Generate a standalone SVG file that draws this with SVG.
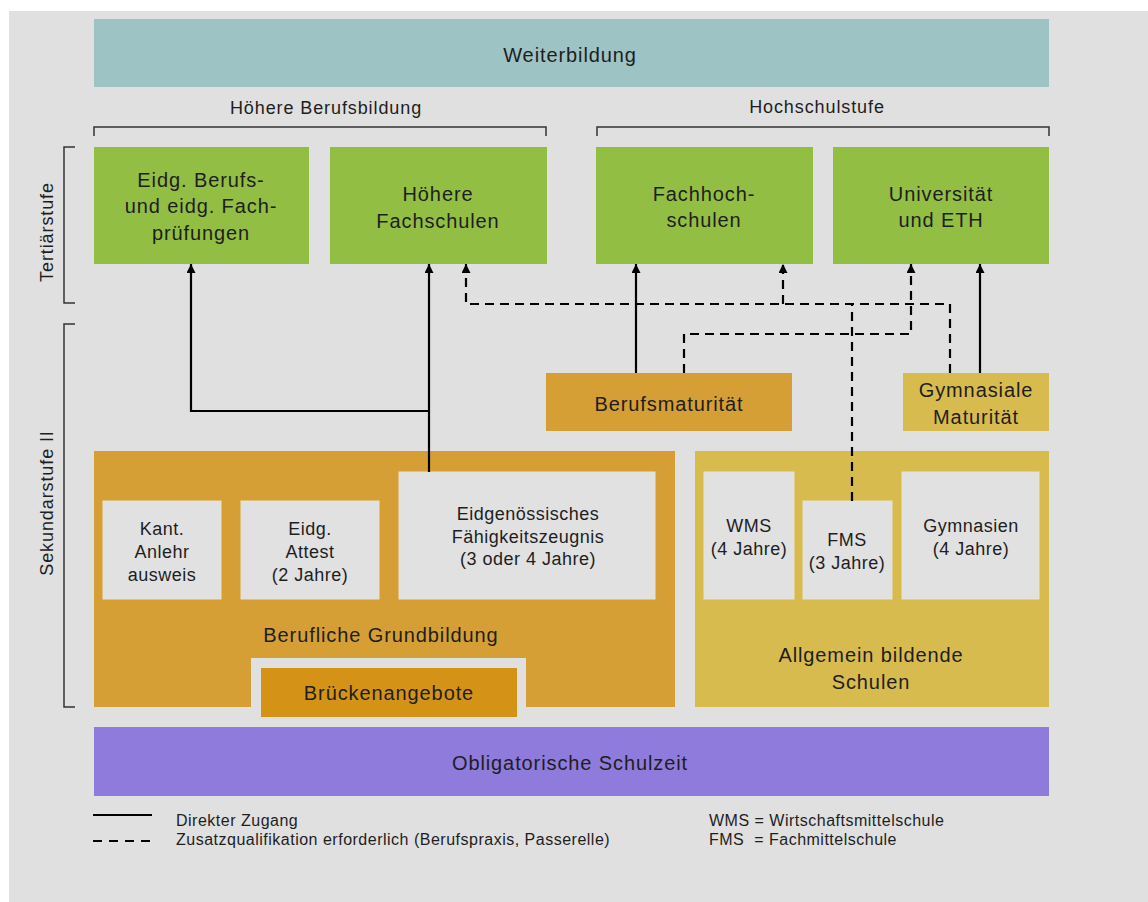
<svg xmlns="http://www.w3.org/2000/svg" width="1148" height="902" viewBox="0 0 1148 902">
<style>
text{font-family:"Liberation Sans",Arial,sans-serif;fill:#1e1e1e;text-anchor:middle}
.big{font-size:20px;letter-spacing:0.9px}
.mid{font-size:18px;letter-spacing:0.9px}
.sm{font-size:18px;letter-spacing:0.5px}
.leg{font-size:16px;letter-spacing:0.5px;text-anchor:start}
.inner{fill:#e1e1e1;stroke:#e6e2d2;stroke-width:1}
.green{fill:#92bf43}
.br{fill:none;stroke:#333;stroke-width:1.5}
.solid{fill:none;stroke:#000;stroke-width:2.2}
.dash{fill:none;stroke:#000;stroke-width:2.2;stroke-dasharray:9 6}
</style>
<defs>
<marker id="arr" markerUnits="userSpaceOnUse" markerWidth="10" markerHeight="10" refX="9" refY="4.5" orient="auto">
<path d="M0,0 L9,4.5 L0,9 Z" fill="#000"/>
</marker>
</defs>
<rect x="0" y="0" width="1148" height="902" fill="#fff"/>
<rect x="9" y="11" width="1139" height="891" fill="#e0e0e0"/>

<g id="weiterbildung">
<rect x="94" y="19" width="955" height="68" fill="#9dc3c4"/>
<text class="big" x="570" y="62">Weiterbildung</text>
</g>

<g id="hoehere-berufsbildung-label">
<text class="mid" x="326" y="114">Höhere Berufsbildung</text>
<path class="br" d="M94,136 V127 H546 V136"/>
</g>
<g id="hochschulstufe-label">
<text class="mid" x="817" y="113">Hochschulstufe</text>
<path class="br" d="M597,136 V127 H1049 V136"/>
</g>

<g id="tertiaerstufe-label">
<path class="br" d="M75,147 H64 V303 H75"/>
<text class="mid" transform="translate(53,232) rotate(-90)">Tertiärstufe</text>
</g>
<g id="sekundarstufe-label">
<path class="br" d="M75,324 H64 V707 H75"/>
<text class="mid" transform="translate(53,503) rotate(-90)">Sekundarstufe II</text>
</g>

<g id="eidg-pruefungen">
<rect class="green" x="94" y="147" width="215" height="117"/>
<text class="big" x="201" y="187">Eidg. Berufs-</text>
<text class="big" x="201" y="213">und eidg. Fach-</text>
<text class="big" x="201" y="240">prüfungen</text>
</g>
<g id="hoehere-fachschulen">
<rect class="green" x="330" y="147" width="217" height="117"/>
<text class="big" x="438" y="201">Höhere</text>
<text class="big" x="438" y="228">Fachschulen</text>
</g>
<g id="fachhochschulen">
<rect class="green" x="596" y="147" width="217" height="117"/>
<text class="big" x="704" y="201">Fachhoch-</text>
<text class="big" x="704" y="227">schulen</text>
</g>
<g id="universitaet">
<rect class="green" x="833" y="147" width="216" height="117"/>
<text class="big" x="941" y="201">Universität</text>
<text class="big" x="941" y="227">und ETH</text>
</g>

<g id="berufsmaturitaet">
<rect x="546" y="373" width="246" height="58" fill="#d59f35"/>
<text class="big" x="669" y="411">Berufsmaturität</text>
</g>
<g id="gymnasiale-maturitaet">
<rect x="903" y="373" width="146" height="58" fill="#d8bb4e"/>
<text class="big" x="976" y="397">Gymnasiale</text>
<text class="big" x="976" y="424">Maturität</text>
</g>

<g id="berufliche-grundbildung">
<path d="M94,451 H675 V707 H526 V658 H251 V707 H94 Z" fill="#d59f35"/>
<text class="big" x="381" y="642">Berufliche Grundbildung</text>
</g>
<g id="kant-anlehrausweis">
<rect class="inner" x="103" y="501" width="118" height="98"/>
<text class="sm" x="162" y="535">Kant.</text>
<text class="sm" x="162" y="558">Anlehr</text>
<text class="sm" x="162" y="581">ausweis</text>
</g>
<g id="eidg-attest">
<rect class="inner" x="241" y="501" width="138" height="98"/>
<text class="sm" x="310" y="535">Eidg.</text>
<text class="sm" x="310" y="558">Attest</text>
<text class="sm" x="310" y="581">(2 Jahre)</text>
</g>
<g id="efz">
<rect class="inner" x="399" y="472" width="256" height="127"/>
<text class="sm" x="528" y="520">Eidgenössisches</text>
<text class="sm" x="528" y="543">Fähigkeitszeugnis</text>
<text class="sm" x="528" y="565">(3 oder 4 Jahre)</text>
</g>
<g id="brueckenangebote">
<rect x="261" y="668" width="256" height="49" fill="#d49317"/>
<text class="big" x="389" y="700">Brückenangebote</text>
</g>

<g id="allgemein-bildende-schulen">
<rect x="695" y="451" width="354" height="256" fill="#d8bb4e"/>
<text class="big" x="871" y="662">Allgemein bildende</text>
<text class="big" x="871" y="689">Schulen</text>
</g>
<g id="wms">
<rect class="inner" x="704" y="472" width="90" height="127"/>
<text class="sm" x="749" y="532">WMS</text>
<text class="sm" x="749" y="555">(4 Jahre)</text>
</g>
<g id="fms">
<rect class="inner" x="803" y="501" width="89" height="98"/>
<text class="sm" x="847" y="546">FMS</text>
<text class="sm" x="847" y="569">(3 Jahre)</text>
</g>
<g id="gymnasien">
<rect class="inner" x="902" y="472" width="137" height="127"/>
<text class="sm" x="971" y="532">Gymnasien</text>
<text class="sm" x="971" y="555">(4 Jahre)</text>
</g>

<g id="obligatorische-schulzeit">
<rect x="94" y="727" width="955" height="69" fill="#8f7bdc"/>
<text class="big" x="570" y="770">Obligatorische Schulzeit</text>
</g>

<g id="connectors">
<path class="solid" d="M429,472 V264" marker-end="url(#arr)"/>
<path class="solid" d="M429,411 H191 V264" marker-end="url(#arr)"/>
<path class="solid" d="M636,373 V264" marker-end="url(#arr)"/>
<path class="solid" d="M980,373 V264" marker-end="url(#arr)"/>
<path class="dash" d="M950,373 V304 H466 V264" marker-end="url(#arr)"/>
<path class="dash" d="M783,304 V264" marker-end="url(#arr)"/>
<path class="dash" d="M684,373 V334 H911 V264" marker-end="url(#arr)"/>
<path class="dash" d="M852,501 V304"/>
</g>

<g id="legend">
<line x1="93" y1="815" x2="152" y2="815" stroke="#000" stroke-width="2.2"/>
<line x1="93" y1="841" x2="152" y2="841" stroke="#000" stroke-width="2.2" stroke-dasharray="9 7"/>
<text class="leg" x="176" y="826">Direkter Zugang</text>
<text class="leg" x="176" y="845">Zusatzqualifikation erforderlich (Berufspraxis, Passerelle)</text>
<text class="leg" x="709" y="826">WMS = Wirtschaftsmittelschule</text>
<text class="leg" x="709" y="845" xml:space="preserve">FMS  = Fachmittelschule</text>
</g>
</svg>
